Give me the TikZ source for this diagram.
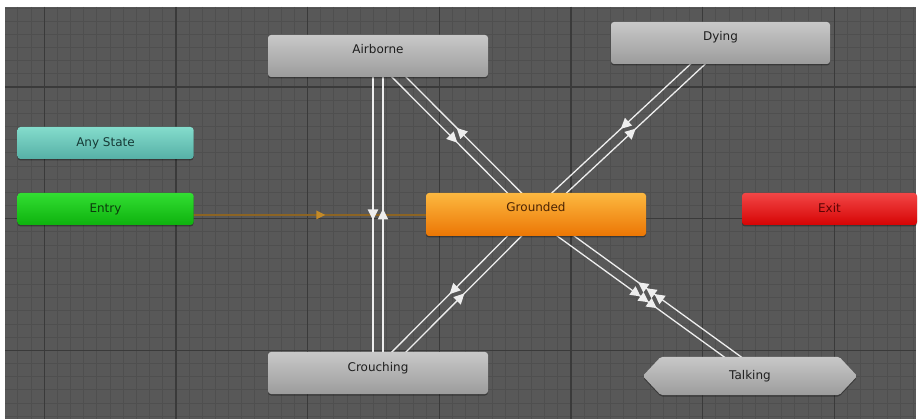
\documentclass[tikz,border=0pt]{standalone}
\usepackage{fontspec}
\setmainfont{DejaVu Sans}
\usetikzlibrary{calc,decorations.markings,shadows}

\pgfdeclarelayer{gridlayer}
\pgfdeclarelayer{edgelayer}
\pgfdeclarelayer{plate}
\pgfsetlayers{gridlayer,edgelayer,plate,main}

\definecolor{canvasbg}{RGB}{88,88,88}
\definecolor{gridminor}{RGB}{79,79,79}
\definecolor{gridmajor}{RGB}{58,58,58}
\definecolor{wire}{RGB}{238,238,238}
\definecolor{entrywire}{RGB}{140,100,35}
\definecolor{entrytip}{RGB}{195,138,40}
\definecolor{greyTop}{RGB}{200,200,200}
\definecolor{greyBot}{RGB}{156,156,156}
\definecolor{greyText}{RGB}{30,30,30}
\definecolor{tealTop}{RGB}{132,220,204}
\definecolor{tealBot}{RGB}{86,176,166}
\definecolor{tealText}{RGB}{22,58,54}
\definecolor{greenTop}{RGB}{50,222,50}
\definecolor{greenBot}{RGB}{14,178,14}
\definecolor{greenText}{RGB}{12,58,12}
\definecolor{orangeTop}{RGB}{252,184,64}
\definecolor{orangeBot}{RGB}{236,118,4}
\definecolor{orangeText}{RGB}{74,36,4}
\definecolor{redTop}{RGB}{242,70,70}
\definecolor{redBot}{RGB}{214,4,4}
\definecolor{redText}{RGB}{92,4,4}

\tikzset{
  statetext/.style={inner xsep=0pt, inner ysep=0pt, font=\fontsize{12}{14}\selectfont},
  state/.style={statetext, rounded corners=3pt,
    drop shadow={shadow xshift=0pt, shadow yshift=-1.5pt, opacity=0.35, fill=black}},
  tallstate/.style={state, minimum width=#1, text height=19pt, text depth=23pt},
  shortstate/.style={state, minimum width=#1, text height=20pt, text depth=12pt},
  greyfill/.style={top color=greyTop, bottom color=greyBot, text=greyText},
  wireline/.style={draw=wire, line width=1.3pt},
  onetip/.style={postaction={decorate, decoration={markings,
    mark=at position 0.5 with {\fill[wire] (5.5pt,0pt) -- (-5pt,5.3pt) -- (-5pt,-5.3pt) -- cycle;}}}},
  threetip/.style={postaction={decorate, decoration={markings,
    mark=at position 0.5 with {
      \fill[wire] (15pt,0pt) -- (5pt,5.3pt) -- (5pt,-5.3pt) -- cycle;
      \fill[wire] (5pt,0pt) -- (-5pt,5.3pt) -- (-5pt,-5.3pt) -- cycle;
      \fill[wire] (-5pt,0pt) -- (-15pt,5.3pt) -- (-15pt,-5.3pt) -- cycle;}}}},
  entryline/.style={draw=entrywire, line width=1.3pt, postaction={decorate, decoration={markings,
    mark=at position 0.5 with {\fill[entrytip] (4.5pt,0pt) -- (-4.5pt,4.5pt) -- (-4.5pt,-4.5pt) -- cycle;}}}}
}

\begin{document}
\begin{tikzpicture}[x=1pt, y=-1pt]
  \useasboundingbox (0,0) rectangle (918,419);

  % graph canvas with its minor and major grid
  \begin{pgfonlayer}{gridlayer}
    \fill[white] (0,0) rectangle (918,419);
    \fill[canvasbg] (5,7) rectangle (916,419);
    \begin{scope}
      \clip (5,7) rectangle (916,419);
      \foreach \i in {-3,...,67} {
        \pgfmathsetmacro\gx{44.2+13.17*\i}
        \draw[gridminor, line width=0.9pt] (\gx,7) -- (\gx,419);
      }
      \foreach \j in {-6,...,26} {
        \pgfmathsetmacro\gy{87+13.17*\j}
        \draw[gridminor, line width=0.9pt] (5,\gy) -- (916,\gy);
      }
      \foreach \i in {0,...,6} {
        \pgfmathsetmacro\gx{44.2+131.7*\i}
        \draw[gridmajor, line width=1.3pt] (\gx,7) -- (\gx,419);
      }
      \foreach \j in {0,...,2} {
        \pgfmathsetmacro\gy{87+131.7*\j}
        \draw[gridmajor, line width=1.3pt] (5,\gy) -- (916,\gy);
      }
    \end{scope}
  \end{pgfonlayer}

  % states
  \node[tallstate=220pt, greyfill] (airborne) at (378,56) {Airborne};
  \node[tallstate=219pt, greyfill] (dying) at (720.5,43) {Dying};
  \node[shortstate=176pt, top color=tealTop, bottom color=tealBot, text=tealText] (anystate) at (105.5,143) {Any State};
  \node[shortstate=176pt, top color=greenTop, bottom color=greenBot, text=greenText] (entry) at (105.5,209) {Entry};
  \node[tallstate=220pt, text depth=24pt, top color=orangeTop, bottom color=orangeBot, text=orangeText] (grounded) at (536,214.5) {Grounded};
  \node[shortstate=175pt, top color=redTop, bottom color=redBot, text=redText] (exit) at (829.5,209) {Exit};
  \node[tallstate=220pt, greyfill] (crouching) at (378,373) {Crouching};
  \node[statetext, minimum width=214pt, text height=23pt, text depth=15pt, text=greyText] (talking) at (750,376) {Talking};
  \coordinate (talkaim) at (759,376);

  % hexagonal plate of the Talking state
  \begin{pgfonlayer}{plate}
    \path[top color=greyTop, bottom color=greyBot, rounded corners=2pt,
          drop shadow={shadow xshift=0pt, shadow yshift=-1.5pt, opacity=0.35, fill=black}]
      (talking.west) -- ([xshift=18pt]talking.north west) -- ([xshift=-18pt]talking.north east)
      -- (talking.east) -- ([xshift=-18pt]talking.south east) -- ([xshift=18pt]talking.south west) -- cycle;
  \end{pgfonlayer}

  % transitions, centre to centre, each pair offset to its own side
  \begin{pgfonlayer}{edgelayer}
    \coordinate (e0) at ([yshift=-6pt]entry.center);
    \draw[entryline] (e0) -- (e0 -| grounded.center);

    \draw[wireline, onetip] ($(airborne.center)!5pt!-90:(crouching.center)$) -- ($(crouching.center)!5pt!90:(airborne.center)$);
    \draw[wireline, onetip] ($(crouching.center)!5pt!-90:(airborne.center)$) -- ($(airborne.center)!5pt!90:(crouching.center)$);

    \draw[wireline, onetip] ($(airborne.center)!5pt!-90:(grounded.center)$) -- ($(grounded.center)!5pt!90:(airborne.center)$);
    \draw[wireline, onetip] ($(grounded.center)!5pt!-90:(airborne.center)$) -- ($(airborne.center)!5pt!90:(grounded.center)$);

    \draw[wireline, onetip] ($(dying.center)!5pt!-90:(grounded.center)$) -- ($(grounded.center)!5pt!90:(dying.center)$);
    \draw[wireline, onetip] ($(grounded.center)!5pt!-90:(dying.center)$) -- ($(dying.center)!5pt!90:(grounded.center)$);

    \draw[wireline, onetip] ($(crouching.center)!5pt!-90:(grounded.center)$) -- ($(grounded.center)!5pt!90:(crouching.center)$);
    \draw[wireline, onetip] ($(grounded.center)!5pt!-90:(crouching.center)$) -- ($(crouching.center)!5pt!90:(grounded.center)$);

    \draw[wireline, threetip] ($(grounded.center)!5pt!-90:(talkaim)$) -- ($(talkaim)!5pt!90:(grounded.center)$);
    \draw[wireline, threetip] ($(talkaim)!5pt!-90:(grounded.center)$) -- ($(grounded.center)!5pt!90:(talkaim)$);
  \end{pgfonlayer}
\end{tikzpicture}
\end{document}
